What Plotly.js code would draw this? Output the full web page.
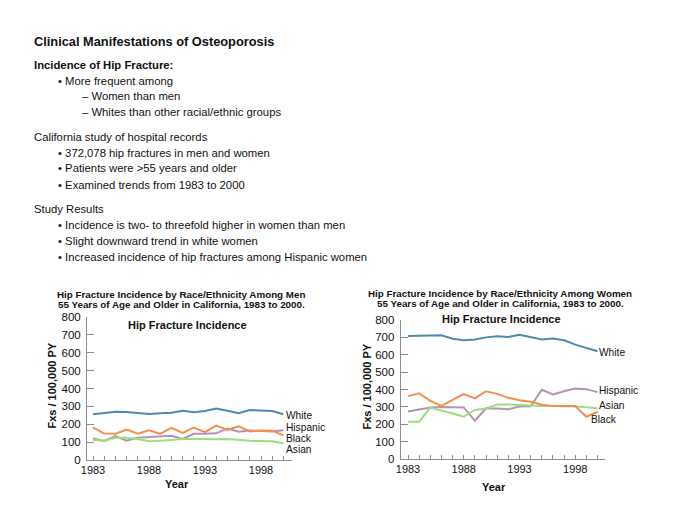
<!DOCTYPE html>
<html>
<head>
<meta charset="utf-8">
<script src="https://cdn.plot.ly/plotly-3.0.1.min.js"></script>
<style>
  html, body { margin: 0; padding: 0; background: #fff; }
  #chart { width: 700px; height: 525px; }
</style>
</head>
<body>
<div id="chart"></div>
<script>
// ---- data ----
const years = [1983,1984,1985,1986,1987,1988,1989,1990,1991,1992,1993,1994,1995,1996,1997,1998,1999,2000];

const menWhite    = [256,265,270,268,263,258,262,264,276,267,274,288,275,262,280,278,274,256];
const menHispanic = [121,107,134,108,125,128,130,136,118,147,147,149,176,158,165,163,160,167];
const menBlack    = [183,148,147,170,147,166,147,180,152,182,156,192,168,189,160,165,163,138];
const menAsian    = [112,108,125,125,118,105,108,115,118,118,115,116,118,112,107,106,105,94];

const womenWhite    = [708,710,712,712,692,683,688,700,707,702,715,703,688,693,683,658,640,620];
const womenHispanic = [273,285,296,300,297,297,220,292,291,287,302,303,398,372,390,405,402,385];
const womenAsian    = [215,215,296,280,262,243,282,291,313,314,310,306,305,305,305,302,298,292];
const womenBlack    = [362,378,335,306,340,374,349,390,375,352,338,330,312,305,305,305,243,272];

const seriesNames = ['White','Hispanic','Black','Asian'];
const yTickVals = [0,100,200,300,400,500,600,700,800];
const xTickVals = [1983,1988,1993,1998];

const colors = {White:'#4f8aae', Hispanic:'#b294b0', Black:'#f38f4e', Asian:'#9ae07a'};

const FONT = 'Liberation Sans, Arial, Helvetica, sans-serif';
const W = 700, H = 525;
const px = x => x / W;
const py = y => 1 - y / H;

// ---- traces ----
const traces = [];
function addSeries(vals, name, xa, ya) {
  traces.push({
    x: years, y: vals, type: 'scatter', mode: 'lines', name: name,
    xaxis: xa, yaxis: ya, showlegend: false, hoverinfo: 'x+y+name',
    line: {color: colors[name], width: 2}
  });
}
addSeries(menWhite, 'White', 'x', 'y');
addSeries(menHispanic, 'Hispanic', 'x', 'y');
addSeries(menBlack, 'Black', 'x', 'y');
addSeries(menAsian, 'Asian', 'x', 'y');
addSeries(womenWhite, 'White', 'x2', 'y2');
addSeries(womenHispanic, 'Hispanic', 'x2', 'y2');
addSeries(womenAsian, 'Asian', 'x2', 'y2');
addSeries(womenBlack, 'Black', 'x2', 'y2');

// ---- axes ----
function xAxis(domain, range) {
  return {
    domain: domain, range: range, showgrid: false, zeroline: false,
    showline: true, linecolor: '#8c8c8c', linewidth: 1,
    tickmode: 'array', tickvals: xTickVals, ticktext: xTickVals.map(String),
    ticks: 'inside', ticklen: 4, tickcolor: '#8c8c8c',
    minor: {tickmode: 'linear', tick0: 1983, dtick: 1, ticks: 'inside', ticklen: 4, tickcolor: '#8c8c8c'},
    tickfont: {family: FONT, size: 11, color: '#111'},
    fixedrange: true
  };
}
function yAxis(domain, anchor) {
  return {
    domain: domain, range: [0, 800], anchor: anchor, showgrid: false, zeroline: false,
    showline: true, linecolor: '#8c8c8c', linewidth: 1,
    tickmode: 'array', tickvals: yTickVals, ticktext: yTickVals.map(String),
    ticks: 'inside', ticklen: 7, tickcolor: '#8c8c8c',
    ticklabelstandoff: 3,
    tickfont: {family: FONT, size: 11.5, color: '#111'},
    fixedrange: true
  };
}

const L_x0 = 87, L_x1 = 292, L_1983 = 93, L_ppy = 11.2;
const R_x0 = 400.7, R_x1 = 605, R_1983 = 408, R_ppy = 11.15;

const layout = {
  width: W, height: H,
  margin: {l: 0, r: 0, t: 0, b: 0},
  paper_bgcolor: '#fff', plot_bgcolor: 'rgba(0,0,0,0)',
  font: {family: FONT, color: '#111'},
  xaxis: Object.assign(xAxis([px(L_x0), px(L_x1)],
          [1983 - (L_1983 - L_x0) / L_ppy, 1983 + (L_x1 - L_1983) / L_ppy]), {anchor: 'y'}),
  yaxis: yAxis([py(460), py(317)], 'x'),
  xaxis2: Object.assign(xAxis([px(R_x0), px(R_x1)],
          [1983 - (R_1983 - R_x0) / R_ppy, 1983 + (R_x1 - R_1983) / R_ppy]), {anchor: 'y2'}),
  yaxis2: yAxis([py(459), py(320)], 'x2'),
  annotations: []
};

const ann = layout.annotations;
function txt(text, x, y, opts) {
  ann.push(Object.assign({
    text: text, x: px(x), y: py(y), xref: 'paper', yref: 'paper',
    xanchor: 'left', yanchor: 'middle', showarrow: false,
    font: {family: FONT, size: 11.3, color: '#111'}, borderpad: 0
  }, opts || {}));
}

// ---- slide text ----
txt('<b>Clinical Manifestations of Osteoporosis</b>', 33, 42, {font: {family: FONT, size: 12.8, color: '#111'}});
txt('<b>Incidence of Hip Fracture:</b>', 33, 64.5, {font: {family: FONT, size: 11.3, color: '#111'}});
txt('• More frequent among', 57, 80.5);
txt('– Women than men', 81, 96.2);
txt('– Whites than other racial/ethnic groups', 81, 112);
txt('California study of hospital records', 33, 136.7);
txt('• 372,078 hip fractures in men and women', 57, 152.5);
txt('• Patients were >55 years and older', 57, 168.5);
txt('• Examined trends from 1983 to 2000', 57, 184.5);
txt('Study Results', 33, 209);
txt('• Incidence is two- to threefold higher in women than men', 57, 225);
txt('• Slight downward trend in white women', 57, 241);
txt('• Increased incidence of hip fractures among Hispanic women', 57, 257);

// ---- chart titles ----
const tFont = {family: FONT, size: 9.8, color: '#111'};
txt('<b>Hip Fracture Incidence by Race/Ethnicity Among Men</b>', 181, 294, {xanchor: 'center', font: tFont});
txt('<b>55 Years of Age and Older in California, 1983 to 2000.</b>', 181, 304, {xanchor: 'center', font: tFont});
txt('<b>Hip Fracture Incidence by Race/Ethnicity Among Women</b>', 500, 293.5, {xanchor: 'center', font: tFont});
txt('<b>55 Years of Age and Older in California, 1983 to 2000.</b>', 500, 303.5, {xanchor: 'center', font: tFont});

const iFont = {family: FONT, size: 11, color: '#111'};
txt('<b>Hip Fracture Incidence</b>', 187.5, 324.5, {xanchor: 'center', font: iFont});
txt('<b>Hip Fracture Incidence</b>', 501.5, 318.5, {xanchor: 'center', font: iFont});

// axis titles
txt('<b>Fxs / 100,000 PY</b>', 51.5, 385, {xanchor: 'center', textangle: -90, font: iFont});
txt('<b>Fxs / 100,000 PY</b>', 366, 386.5, {xanchor: 'center', textangle: -90, font: iFont});
txt('<b>Year</b>', 177, 484, {xanchor: 'center', font: iFont});
txt('<b>Year</b>', 494, 487, {xanchor: 'center', font: iFont});

// series labels
const sFont = {family: FONT, size: 10.2, color: '#111'};
txt(seriesNames[0], 285, 415, {font: sFont});
txt(seriesNames[1], 285, 427, {font: sFont});
txt(seriesNames[2], 285, 438, {font: sFont});
txt(seriesNames[3], 285, 449.5, {font: sFont});
txt(seriesNames[0], 598, 352, {font: sFont});
txt(seriesNames[1], 598, 390, {font: sFont});
txt(seriesNames[3], 598, 405, {font: sFont});
txt(seriesNames[2], 590, 419, {font: sFont});

Plotly.newPlot('chart', traces, layout, {displayModeBar: false, staticPlot: true});
</script>
</body>
</html>
